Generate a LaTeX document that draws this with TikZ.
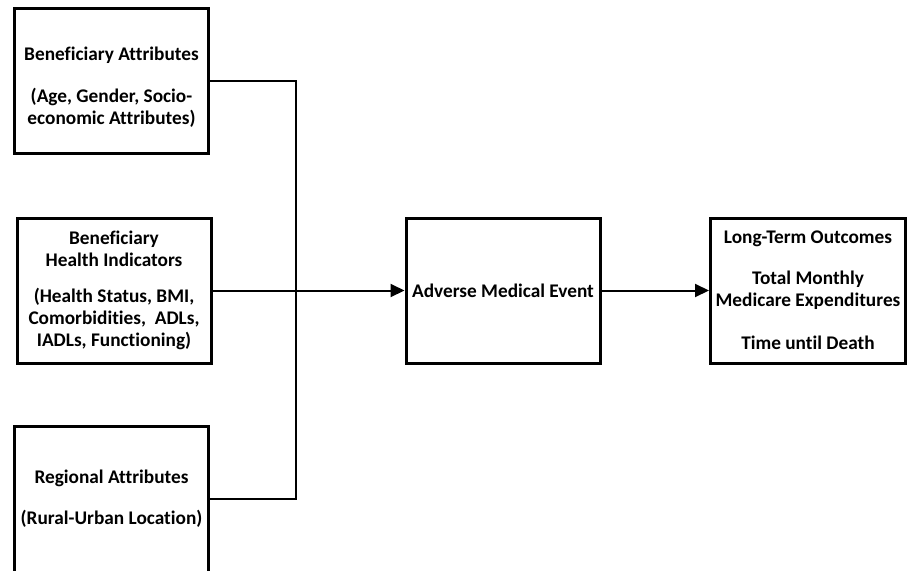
\documentclass[tikz,border=0pt]{standalone}
\usepackage{fontspec}
\setmainfont{Carlito}[Ligatures=NoCommon]
\usetikzlibrary{arrows.meta}

\begin{document}
\begin{tikzpicture}[x=1pt, y=-1pt,
		box/.style={draw, line width=3pt, minimum width=194pt, minimum height=145pt, inner sep=0pt, align=center, font=\fontsize{19.3}{22}\selectfont\bfseries},
		link/.style={line width=2pt},
		arrow/.style={line width=2pt, -{Triangle[length=14pt, width=13pt]}}]
			%%%%% START %%%%%
			
			\useasboundingbox (0, 0) rectangle (912, 570);
			
			\node[box] (ben) at (111.5, 81) {\mbox{}\\[3pt]Beneficiary Attributes\\[20pt](Age, Gender, Socio-\\economic Attributes)};
			\node[box] (health) at (114, 290.5) {Beneficiary\\Health Indicators\\[14pt](Health Status, BMI,\\Comorbidities,\ \ ADLs,\\IADLs, Functioning)};
			\node[box, minimum height=146pt] (reg) at (111.5, 499) {Regional Attributes\\[19pt](Rural-Urban Location)};
			
			\node[box] (adverse) at (503, 290.5) {Adverse Medical Event};
			\node[box, minimum width=195pt] (outcome) at (808, 290.5) {Long-Term Outcomes\\[19pt]Total Monthly\\Medicare Expenditures\\[21pt]Time until Death};
			
			\coordinate (bus) at (296, 290.5);
			
			\draw[link] (ben.east) -| (bus) |- (reg.east);
			\draw[arrow] (health.east) -- (adverse.west);
			\draw[arrow] (adverse.east) -- (outcome.west);
			
			%%%%% END %%%%%
		\end{tikzpicture}
\end{document}
